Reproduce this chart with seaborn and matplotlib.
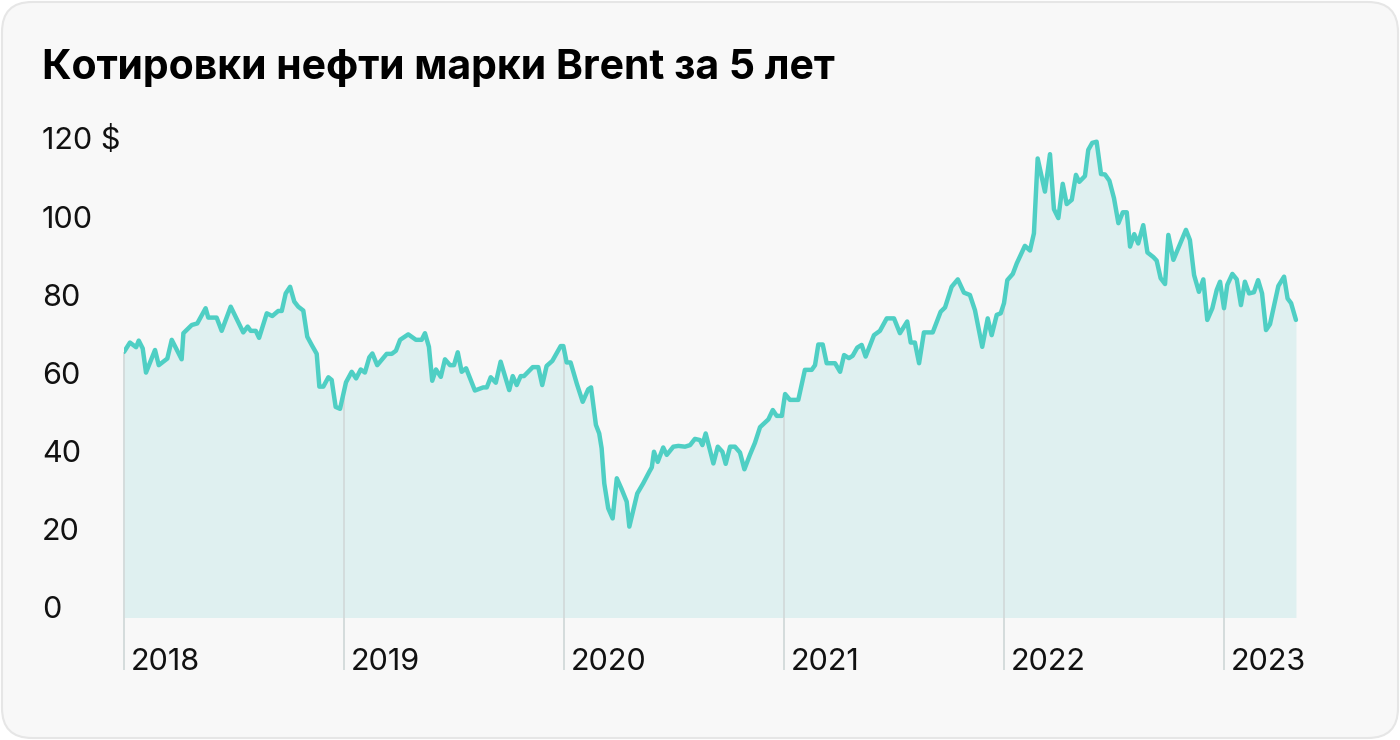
import numpy as np
import matplotlib
matplotlib.use("Agg")
import matplotlib.pyplot as plt
from matplotlib.patches import FancyBboxPatch
from matplotlib.transforms import IdentityTransform, offset_copy
import seaborn as sns

# время в долях года (2018.0 = 1 января 2018) и цена Brent, $ за баррель
t_years = [
    2018.000, 2018.027, 2018.055, 2018.067, 2018.085, 2018.100, 2018.141, 2018.158,
    2018.197, 2018.217, 2018.262, 2018.270, 2018.308, 2018.333, 2018.371, 2018.383,
    2018.421, 2018.444, 2018.485, 2018.542, 2018.562, 2018.576, 2018.599, 2018.614,
    2018.649, 2018.674, 2018.701, 2018.717, 2018.735, 2018.755, 2018.774, 2018.792,
    2018.815, 2018.833, 2018.853, 2018.876, 2018.888, 2018.906, 2018.929, 2018.944,
    2018.962, 2018.982, 2019.009, 2019.035, 2019.055, 2019.076, 2019.095, 2019.115,
    2019.129, 2019.151, 2019.194, 2019.217, 2019.236, 2019.255, 2019.292, 2019.327,
    2019.353, 2019.368, 2019.386, 2019.401, 2019.418, 2019.440, 2019.459, 2019.482,
    2019.500, 2019.517, 2019.535, 2019.555, 2019.573, 2019.595, 2019.633, 2019.649,
    2019.667, 2019.690, 2019.712, 2019.751, 2019.767, 2019.785, 2019.803, 2019.818,
    2019.858, 2019.883, 2019.901, 2019.921, 2019.947, 2019.985, 2019.997, 2020.012,
    2020.030, 2020.058, 2020.085, 2020.110, 2020.123, 2020.145, 2020.160, 2020.171,
    2020.183, 2020.201, 2020.221, 2020.240, 2020.262, 2020.285, 2020.297, 2020.333,
    2020.360, 2020.388, 2020.399, 2020.409, 2020.426, 2020.451, 2020.467, 2020.497,
    2020.520, 2020.550, 2020.573, 2020.595, 2020.618, 2020.629, 2020.644, 2020.679,
    2020.699, 2020.720, 2020.735, 2020.755, 2020.777, 2020.800, 2020.820, 2020.845,
    2020.868, 2020.891, 2020.929, 2020.949, 2020.967, 2020.990, 2021.005, 2021.027,
    2021.065, 2021.095, 2021.126, 2021.141, 2021.156, 2021.176, 2021.194, 2021.232,
    2021.255, 2021.273, 2021.295, 2021.312, 2021.333, 2021.353, 2021.371, 2021.409,
    2021.436, 2021.467, 2021.500, 2021.527, 2021.560, 2021.576, 2021.595, 2021.614,
    2021.636, 2021.676, 2021.712, 2021.732, 2021.762, 2021.790, 2021.818, 2021.845,
    2021.868, 2021.901, 2021.926, 2021.944, 2021.967, 2021.985, 2022.000, 2022.015,
    2022.040, 2022.058, 2022.095, 2022.118, 2022.136, 2022.153, 2022.186, 2022.209,
    2022.227, 2022.247, 2022.267, 2022.285, 2022.308, 2022.327, 2022.342, 2022.368,
    2022.383, 2022.401, 2022.421, 2022.441, 2022.459, 2022.479, 2022.500, 2022.520,
    2022.540, 2022.558, 2022.573, 2022.592, 2022.610, 2022.633, 2022.652, 2022.679,
    2022.694, 2022.712, 2022.732, 2022.747, 2022.770, 2022.827, 2022.845, 2022.864,
    2022.886, 2022.906, 2022.924, 2022.947, 2022.967, 2022.982, 2023.000, 2023.015,
    2023.038, 2023.058, 2023.077, 2023.095, 2023.114, 2023.136, 2023.155, 2023.173,
    2023.191, 2023.209, 2023.247, 2023.273, 2023.289, 2023.305, 2023.327,
]
brent = [
    68.1, 70.5, 69.3, 71.0, 69.0, 62.8, 68.6, 64.7,
    66.4, 71.2, 66.2, 72.9, 75.0, 75.4, 79.3, 76.9,
    76.9, 73.5, 79.7, 73.1, 74.6, 73.5, 73.5, 71.7,
    78.0, 77.3, 78.6, 78.6, 83.1, 84.8, 81.0, 79.7,
    78.7, 72.0, 69.9, 67.6, 59.2, 59.2, 61.6, 60.9,
    54.0, 53.5, 60.3, 63.0, 61.3, 63.6, 62.8, 66.7,
    67.7, 64.7, 67.6, 67.6, 68.4, 71.2, 72.6, 71.2,
    71.2, 72.9, 69.4, 60.7, 63.6, 61.7, 66.2, 64.7,
    64.7, 68.0, 63.0, 63.9, 61.3, 58.2, 59.0, 59.0,
    61.6, 60.2, 65.6, 58.3, 61.9, 59.6, 61.9, 61.9,
    64.2, 64.2, 59.6, 64.5, 65.8, 69.6, 69.6, 65.4,
    65.4, 60.0, 55.3, 58.5, 59.0, 49.4, 47.2, 43.4,
    34.4, 28.0, 25.4, 35.7, 32.9, 29.7, 23.3, 31.8,
    34.4, 37.4, 38.5, 42.5, 39.9, 43.6, 41.7, 43.8,
    44.0, 43.8, 44.2, 45.8, 45.5, 44.2, 47.2, 39.5,
    43.8, 42.5, 39.4, 43.8, 43.8, 42.3, 38.0, 41.7,
    44.8, 48.8, 50.8, 53.2, 51.7, 51.7, 57.3, 55.8,
    55.8, 63.5, 63.5, 64.7, 70.0, 70.0, 65.2, 65.2,
    63.0, 67.3, 66.5, 67.1, 69.2, 69.9, 66.9, 72.4,
    73.5, 76.7, 76.7, 72.9, 75.9, 70.5, 70.5, 65.2,
    73.1, 73.1, 78.4, 79.5, 84.8, 86.7, 83.3, 82.7,
    78.8, 69.4, 76.7, 72.4, 77.6, 78.0, 80.6, 86.5,
    88.1, 90.8, 95.3, 94.1, 98.5, 117.7, 109.2, 118.8,
    104.7, 102.4, 111.2, 106.0, 107.1, 113.5, 111.7, 113.2,
    119.9, 121.7, 122.0, 113.7, 113.6, 112.0, 107.5, 101.1,
    103.9, 103.9, 95.1, 98.3, 95.9, 100.6, 93.6, 92.4,
    91.5, 87.0, 85.5, 98.1, 91.7, 99.4, 96.8, 87.8,
    83.5, 86.7, 76.3, 79.3, 84.0, 86.1, 79.3, 85.3,
    88.1, 86.7, 80.1, 86.1, 83.1, 83.4, 86.5, 83.1,
    73.7, 75.2, 85.0, 87.4, 81.8, 80.6, 76.3,
]
year_ticks = [2018, 2019, 2020, 2021, 2022, 2023]
y_ticks = [0, 20, 40, 60, 80, 100, 120]
y_labels = ["0", "20", "40", "60", "80", "100", "120 $"]
title = "Котировки нефти марки Brent за 5 лет"

line_color = "#4fcfc4"
fill_color = "#dff0f0"
vline_color = "#d2dada"
card_color = "#f8f8f8"

sns.set_style("white")
plt.rcParams["font.family"] = ["Inter", "DejaVu Sans"]

W, H = 1400, 740
fig = plt.figure(figsize=(W / 100, H / 100), dpi=100)
fig.patch.set_facecolor("white")

# карточка с закруглёнными углами (под осями)
card = FancyBboxPatch((2, 2), W - 4, H - 4, boxstyle="round,pad=0,rounding_size=30",
                      transform=IdentityTransform(), facecolor=card_color,
                      edgecolor="#e6e6e6", linewidth=1.5, zorder=-5)
fig.patches.append(card)

x_left, x_right = 124, 1300
y_zero, y_top = 617.5, 130
ax = fig.add_axes([x_left / W, (H - y_zero) / H, (x_right - x_left) / W, (y_zero - y_top) / H])
ax.set_facecolor("none")

ax.fill_between(t_years, 0, brent, color=fill_color, linewidth=0, zorder=1)
sns.lineplot(x=t_years, y=brent, ax=ax, color=line_color, linewidth=3.2, zorder=3)
ax.lines[-1].set_solid_joinstyle("round")

ax.set_xlim(2018, 2018 + (x_right - x_left) / 220)
ax.set_ylim(0, (y_zero - y_top) / 3.9)

# вертикальные линии по годам: от кривой вниз под ось, справа подпись года
below = -(670 - y_zero) / 3.9
label_y = -(670 - y_zero) / (y_zero - y_top)
for yr in year_ticks:
    top = np.interp(yr, t_years, brent)
    ax.vlines(yr, below, top, color=vline_color, linewidth=1.3, clip_on=False, zorder=2)
    ax.text(yr, label_y, str(yr),
            transform=offset_copy(ax.get_xaxis_transform(), fig=fig, x=7, y=0, units="dots"),
            fontsize=22, ha="left", va="baseline", color="#111111")

ax.set_xticks([])
ax.set_yticks(y_ticks)
ax.set_yticklabels(y_labels)
ax.tick_params(axis="y", length=0, pad=(x_left - 42) * 0.72, labelsize=22, labelcolor="#111111")
for lbl in ax.get_yticklabels():
    lbl.set_ha("left")
    lbl.set_va("baseline")
sns.despine(ax=ax, left=True, bottom=True)
ax.set_xlabel("")
ax.set_ylabel("")

fig.text(42 / W, 1 - 79 / H, title, fontsize=29.5, fontweight="bold", ha="left", va="baseline", color="#000000")

fig.savefig("out.png", dpi=100)
